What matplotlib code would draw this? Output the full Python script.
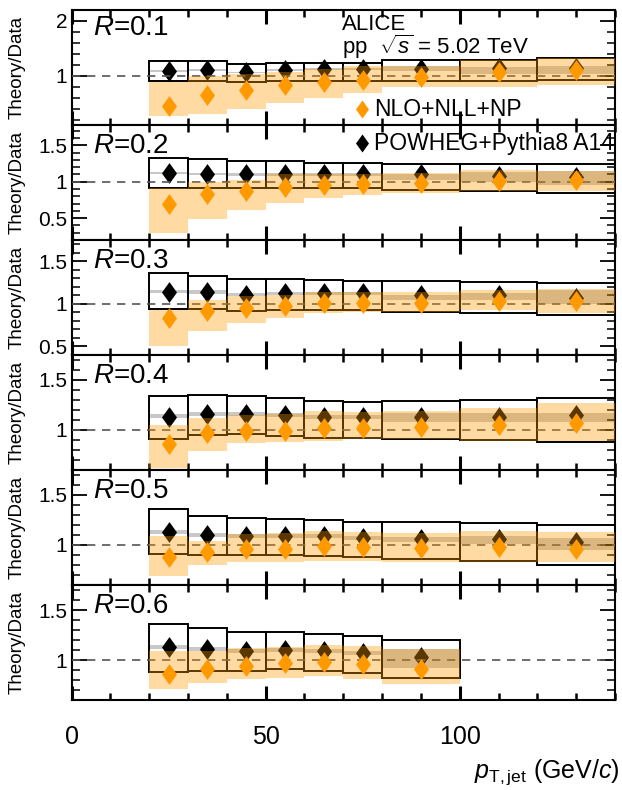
import matplotlib
matplotlib.use('Agg')
import matplotlib.pyplot as plt
from matplotlib.ticker import MultipleLocator, FormatStrFormatter
import numpy as np

plt.rcParams['font.family'] = ['Liberation Sans', 'DejaVu Sans']
plt.rcParams['mathtext.fontset'] = 'custom'
plt.rcParams['mathtext.rm'] = 'Liberation Sans'
plt.rcParams['mathtext.it'] = 'Liberation Sans:italic'

# pT bins (GeV/c)
pt_lo = [20, 30, 40, 50, 60, 70, 80, 100, 120]
pt_hi = [30, 40, 50, 60, 70, 80, 100, 120, 140]

radii = ['0.1', '0.2', '0.3', '0.4', '0.5', '0.6']

# POWHEG+Pythia8 A14 / data, with open boxes and grey band
pow_val = [
    [1.09, 1.10, 1.06, 1.10, 1.12, 1.12, 1.13, 1.15, 1.15],
    [1.12, 1.11, 1.10, 1.10, 1.10, 1.10, 1.10, 1.08, 1.06],
    [1.145, 1.14, 1.11, 1.125, 1.125, 1.125, 1.105, 1.105, 1.07],
    [1.135, 1.16, 1.16, 1.15, 1.13, 1.13, 1.13, 1.13, 1.15],
    [1.135, 1.10, 1.09, 1.09, 1.09, 1.075, 1.065, 1.06, 1.03],
    [1.13, 1.11, 1.09, 1.105, 1.09, 1.07, 1.03],
]
box_lo = [
    [0.90, 0.90, 0.88, 0.90, 0.90, 0.91, 0.90, 0.91, 0.92],
    [0.92, 0.91, 0.91, 0.91, 0.91, 0.91, 0.89, 0.87, 0.85],
    [0.94, 0.94, 0.92, 0.93, 0.93, 0.93, 0.90, 0.89, 0.87],
    [0.91, 0.95, 0.96, 0.94, 0.92, 0.92, 0.91, 0.90, 0.88],
    [0.91, 0.90, 0.90, 0.90, 0.89, 0.88, 0.86, 0.845, 0.80],
    [0.88, 0.89, 0.89, 0.91, 0.89, 0.87, 0.82],
]
box_hi = [
    [1.27, 1.27, 1.21, 1.23, 1.23, 1.24, 1.29, 1.29, 1.32],
    [1.33, 1.31, 1.28, 1.28, 1.26, 1.26, 1.25, 1.25, 1.25],
    [1.36, 1.33, 1.29, 1.29, 1.28, 1.27, 1.27, 1.26, 1.24],
    [1.34, 1.35, 1.34, 1.32, 1.29, 1.28, 1.29, 1.30, 1.32],
    [1.36, 1.29, 1.27, 1.26, 1.25, 1.23, 1.23, 1.22, 1.20],
    [1.36, 1.32, 1.28, 1.28, 1.26, 1.24, 1.20],
]
grey_lo = [
    [1.075, 1.085, 1.045, 1.085, 1.105, 1.105, 1.08, 1.03, 1.03],
    [1.105, 1.095, 1.085, 1.085, 1.085, 1.085, 1.03, 1.00, 0.95],
    [1.125, 1.12, 1.09, 1.105, 1.105, 1.105, 1.05, 1.05, 1.00],
    [1.115, 1.14, 1.14, 1.13, 1.11, 1.11, 1.08, 1.08, 1.08],
    [1.115, 1.08, 1.07, 1.07, 1.07, 1.055, 1.03, 1.01, 0.95],
    [1.11, 1.09, 1.07, 1.085, 1.07, 1.05, 0.92],
]
grey_hi = [
    [1.105, 1.115, 1.075, 1.115, 1.135, 1.135, 1.17, 1.15, 1.18],
    [1.135, 1.125, 1.115, 1.115, 1.115, 1.115, 1.10, 1.13, 1.15],
    [1.165, 1.16, 1.13, 1.145, 1.145, 1.145, 1.11, 1.125, 1.16],
    [1.155, 1.18, 1.18, 1.17, 1.15, 1.15, 1.17, 1.17, 1.17],
    [1.155, 1.12, 1.11, 1.11, 1.11, 1.095, 1.08, 1.09, 1.07],
    [1.15, 1.13, 1.11, 1.125, 1.11, 1.09, 1.11],
]

# NLO+NLL+NP / data with uncertainty band
nlo_val = [
    [0.45, 0.65, 0.74, 0.83, 0.88, 0.92, 0.97, 1.06, 1.10],
    [0.70, 0.83, 0.87, 0.93, 0.96, 0.97, 0.99, 1.01, 1.02],
    [0.83, 0.92, 0.95, 0.98, 1.01, 1.01, 1.01, 1.03, 1.03],
    [0.865, 0.97, 0.99, 0.99, 1.02, 1.02, 1.03, 1.05, 1.07],
    [0.88, 0.93, 0.96, 0.96, 0.99, 0.98, 0.97, 0.98, 0.96],
    [0.86, 0.91, 0.94, 0.97, 0.98, 0.96, 0.91],
]
nlo_lo = [
    [0.27, 0.30, 0.39, 0.51, 0.60, 0.68, 0.79, 0.79, 0.83],
    [0.29, 0.49, 0.61, 0.71, 0.78, 0.82, 0.85, 0.88, 0.87],
    [0.51, 0.68, 0.77, 0.84, 0.89, 0.91, 0.91, 0.93, 0.89],
    [0.62, 0.79, 0.865, 0.88, 0.89, 0.905, 0.91, 0.89, 0.89],
    [0.69, 0.80, 0.835, 0.835, 0.845, 0.845, 0.835, 0.835, 0.83],
    [0.71, 0.77, 0.81, 0.82, 0.84, 0.81, 0.76],
]
nlo_hi = [
    [0.88, 1.00, 1.03, 1.07, 1.12, 1.18, 1.18, 1.28, 1.33],
    [0.92, 1.00, 1.03, 1.10, 1.11, 1.11, 1.12, 1.16, 1.15],
    [0.93, 1.05, 1.09, 1.10, 1.145, 1.145, 1.145, 1.16, 1.18],
    [1.05, 1.12, 1.145, 1.16, 1.185, 1.175, 1.185, 1.22, 1.27],
    [1.09, 1.04, 1.11, 1.125, 1.14, 1.13, 1.12, 1.14, 1.13],
    [1.09, 1.09, 1.12, 1.13, 1.15, 1.14, 1.11],
]

ylims = [(0.1, 2.2), (0.2, 1.78), (0.4, 1.75), (0.6, 1.75), (0.6, 1.75), (0.6, 1.75)]

orange = '#ff9900'
# ROOT-like diamond, a bit fatter than matplotlib's 'd'
diam = [(0, 1), (0.72, 0), (0, -1), (-0.72, 0), (0, 1)]

fig = plt.figure(figsize=(6.22, 7.9), dpi=100)
axes = fig.subplots(6, 1, sharex=True, gridspec_kw=dict(hspace=0))
fig.subplots_adjust(left=71.5/622, right=615/622, top=1-10/790, bottom=1-700/790)

for k, ax in enumerate(axes):
    n = len(pow_val[k])
    lo = np.array(pt_lo[:n])
    hi = np.array(pt_hi[:n])
    w = hi - lo
    mid = 0.5 * (lo + hi)

    ax.bar(lo, np.subtract(grey_hi[k], grey_lo[k]), width=w, bottom=grey_lo[k],
           align='edge', color='#c8c8c8', lw=0, zorder=1)
    ax.bar(lo, np.subtract(box_hi[k], box_lo[k]), width=w, bottom=box_lo[k],
           align='edge', fill=False, edgecolor='black', lw=1.4, zorder=2)
    ax.plot(mid, pow_val[k], ls='none', marker=diam, color='black', ms=15, mew=0, zorder=3)
    ax.axhline(1, color='#555555', ls=(0, (5, 4)), lw=1.2, zorder=3.5)
    ax.bar(lo, np.subtract(nlo_hi[k], nlo_lo[k]), width=w, bottom=nlo_lo[k],
           align='edge', color=orange, alpha=0.36, lw=0, zorder=4)
    ax.plot(mid, nlo_val[k], ls='none', marker=diam, color=orange, ms=15, mew=0, zorder=5)

    ax.set_xlim(0, 140)
    ax.set_ylim(*ylims[k])
    if k == 0:
        ax.yaxis.set_major_locator(MultipleLocator(1))
        ax.yaxis.set_minor_locator(MultipleLocator(0.2))
    else:
        ax.yaxis.set_major_locator(MultipleLocator(0.5))
        ax.yaxis.set_minor_locator(MultipleLocator(0.1))
    ax.yaxis.set_major_formatter(FormatStrFormatter('%g'))
    ax.xaxis.set_major_locator(MultipleLocator(50))
    ax.xaxis.set_minor_locator(MultipleLocator(10))
    ax.tick_params(which='both', direction='in', top=True, right=True)
    ax.tick_params(axis='y', which='major', length=11, width=1.3, labelsize=15, pad=3)
    ax.tick_params(axis='y', which='minor', length=6, width=1.1)
    ax.tick_params(axis='x', which='major', length=10, width=2.2, labelsize=18, pad=18)
    ax.tick_params(axis='x', which='minor', length=5, width=1.8)
    for s in ax.spines.values():
        s.set_linewidth(1.5)

    ax.text(0.04, 0.84 if k == 0 else 0.82, r'$R$=' + radii[k], transform=ax.transAxes,
            fontsize=20, va='center', ha='left')
    ax.text(-0.1, 0.5, 'Theory/Data', transform=ax.transAxes, rotation=90,
            fontsize=13.5, ha='center', va='center')

# labels and legend
fig.text(342/622, 1-24/790, 'ALICE', fontsize=16, ha='left', va='center')
fig.text(342/622, 1-47/790, r'pp  $\sqrt{s}$ = 5.02 TeV', fontsize=16, ha='left', va='center')

axes[0].plot([0.534], [0.139], ls='none', marker=diam, color=orange, ms=13, mew=0,
             transform=axes[0].transAxes, clip_on=False, zorder=6)
axes[0].text(0.557, 0.139, 'NLO+NLL+NP', transform=axes[0].transAxes, fontsize=16.5,
             va='center', ha='left', zorder=6)
axes[1].plot([0.534], [0.843], ls='none', marker=diam, color='black', ms=13, mew=0,
             transform=axes[1].transAxes, clip_on=False, zorder=6)
axes[1].text(0.557, 0.843, 'POWHEG+Pythia8 A14', transform=axes[1].transAxes, fontsize=16.5,
             va='center', ha='left', zorder=6)

fig.text(620/622, 1-772/790, r'$p_{\mathrm{T,jet}}$ (GeV/$c$)', fontsize=18, ha='right', va='center')

plt.savefig('out.png', dpi=100)
